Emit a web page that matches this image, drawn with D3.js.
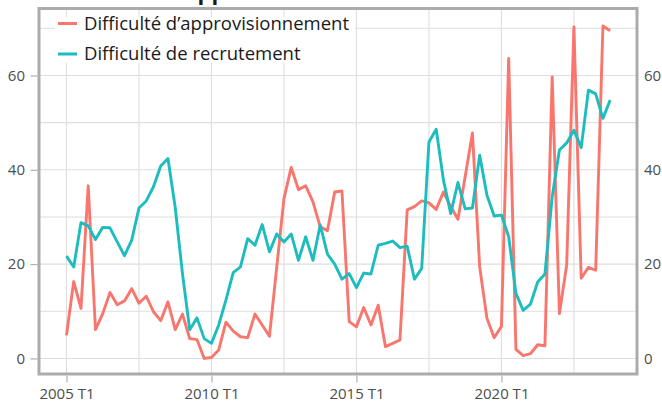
<!DOCTYPE html>
<html>
<head>
<meta charset="utf-8">
<script src="https://cdn.jsdelivr.net/npm/d3@7"></script>
<style>
  body { margin: 0; background: #fff; }
  svg { display: block; font-family: 'Open Sans', sans-serif; }
</style>
</head>
<body>
<div id="wrapper"></div>
<script>
// Data: quarterly, 2005 T1 -> 2023 T4
const startYear = 2005;
const quarters = d3.range(76).map((i) => `${startYear + Math.floor(i / 4)} T${(i % 4) + 1}`);

const approvisionnement = [
  4.9, 16.3, 10.6, 36.6, 6.1, 9.5, 14.0, 11.4, 12.2, 14.8,
  11.7, 13.2, 9.9, 8.0, 12.0, 6.1, 9.4, 4.2, 4.0, 0.0,
  0.2, 1.8, 7.7, 5.8, 4.6, 4.4, 9.4, 7.1, 4.7, 19.3,
  33.9, 40.5, 35.8, 36.6, 33.2, 27.9, 27.1, 35.3, 35.5, 7.8,
  6.7, 10.8, 7.1, 11.3, 2.5, 3.2, 3.9, 31.5, 32.2, 33.4,
  33.0, 31.6, 35.3, 32.2, 29.5, 38.6, 47.8, 19.4, 8.5, 4.4,
  6.8, 63.6, 1.9, 0.6, 1.0, 2.9, 2.7, 59.7, 9.5, 19.8,
  70.3, 17.0, 19.3, 18.7, 70.5, 69.5,
];

const recrutement = [
  21.7, 19.4, 28.8, 28.1, 25.2, 27.8, 27.7, 24.7, 21.8, 25.1,
  31.9, 33.4, 36.4, 40.8, 42.4, 32.0, 18.0, 6.1, 8.6, 4.2,
  3.2, 7.1, 12.4, 18.2, 19.4, 25.4, 24.0, 28.4, 22.6, 26.4,
  24.7, 26.4, 20.8, 25.8, 20.8, 28.3, 22.1, 20.0, 16.8, 18.0,
  15.0, 18.1, 17.9, 24.0, 24.4, 24.9, 23.5, 23.8, 16.8, 19.1,
  45.9, 48.6, 37.8, 30.7, 37.3, 31.7, 31.9, 43.1, 34.6, 30.2,
  30.4, 25.8, 13.8, 10.2, 11.5, 16.2, 17.9, 34.3, 44.2, 45.7,
  48.4, 44.7, 56.9, 56.1, 50.9, 54.8,
];

const seriesNames = ['Difficulté d’approvisionnement', 'Difficulté de recrutement'];
const seriesColors = ['#F8766D', '#1DBDBF'];
const yTicks = [0, 20, 40, 60];
const xTickLabels = ['2005 T1', '2010 T1', '2015 T1', '2020 T1'];

const dimensions = {
  width: 662,
  height: 401,
  margin: { top: 8.5, right: 25, bottom: 27, left: 39 },
};
dimensions.boundedWidth = dimensions.width - dimensions.margin.left - dimensions.margin.right;
dimensions.boundedHeight = dimensions.height - dimensions.margin.top - dimensions.margin.bottom;

const panelLeft = dimensions.margin.left;
const panelRight = dimensions.width - dimensions.margin.right;
const panelTop = dimensions.margin.top;
const panelBottom = dimensions.height - dimensions.margin.bottom;

// Scales (x on quarter index)
const xScale = d3.scaleLinear().domain([-3.79, 78.7]).range([panelLeft, panelRight]);
const yScale = d3.scaleLinear().domain([-3.3, 74.2]).range([panelBottom, panelTop]);

const svg = d3
  .select('#wrapper')
  .append('svg')
  .attr('width', dimensions.width)
  .attr('height', dimensions.height);

// Grid
const grid = svg.append('g').attr('stroke', '#dedede').attr('stroke-width', 1.1);
grid
  .selectAll('line.h')
  .data(d3.range(0, 80, 10))
  .join('line')
  .attr('class', 'h')
  .attr('x1', panelLeft)
  .attr('x2', panelRight)
  .attr('y1', (d) => yScale(d))
  .attr('y2', (d) => yScale(d));
grid
  .selectAll('line.v')
  .data(d3.range(0, 80, 10))
  .join('line')
  .attr('class', 'v')
  .attr('x1', (d) => xScale(d))
  .attr('x2', (d) => xScale(d))
  .attr('y1', panelTop)
  .attr('y2', panelBottom);

// Lines
const line = (values) =>
  d3
    .line()
    .x((d, i) => xScale(i))
    .y((d) => yScale(d))(values);

[approvisionnement, recrutement].forEach((values, k) => {
  svg
    .append('path')
    .attr('d', line(values))
    .attr('fill', 'none')
    .attr('stroke', seriesColors[k])
    .attr('stroke-width', 2.9)
    .attr('stroke-linejoin', 'round');
});

// Legend
const legend = svg.append('g').attr('id', 'legend');
legend
  .append('rect')
  .attr('x', 55)
  .attr('y', 17)
  .attr('width', 300)
  .attr('height', 46)
  .attr('fill', '#fff');
seriesNames.forEach((name, k) => {
  const ly = 23.5 + k * 30.5;
  legend
    .append('line')
    .attr('x1', 58)
    .attr('x2', 77)
    .attr('y1', ly)
    .attr('y2', ly)
    .attr('stroke', seriesColors[k])
    .attr('stroke-width', 3);
  legend
    .append('text')
    .attr('x', 84)
    .attr('y', ly + 6.2)
    .attr('fill', '#1a1a1a')
    .style('font-size', '18.5px')
    .text(name);
});

// Panel border
svg
  .append('rect')
  .attr('x', panelLeft)
  .attr('y', panelTop)
  .attr('width', dimensions.boundedWidth)
  .attr('height', dimensions.boundedHeight)
  .attr('fill', 'none')
  .attr('stroke', '#ababab')
  .attr('stroke-width', 3);

// Axes
const yAxis = d3.axisLeft(yScale).tickValues(yTicks).tickSize(7).tickPadding(5.5);
const yAxisGroup = svg
  .append('g')
  .attr('id', 'y-axis')
  .attr('transform', `translate(${panelLeft - 1.5}, 0)`)
  .call(yAxis);

const yAxisRight = d3.axisRight(yScale).tickValues(yTicks).tickSize(0).tickPadding(5.5);
const yAxisRightGroup = svg
  .append('g')
  .attr('id', 'y-axis-right')
  .attr('transform', `translate(${panelRight + 1.5}, 0)`)
  .call(yAxisRight);

const xAxis = d3
  .axisBottom(xScale)
  .tickValues([0, 20, 40, 60])
  .tickFormat((d, i) => xTickLabels[i])
  .tickSize(7)
  .tickPadding(4);
const xAxisGroup = svg
  .append('g')
  .attr('id', 'x-axis')
  .attr('transform', `translate(0, ${panelBottom + 1.5})`)
  .call(xAxis);

[yAxisGroup, yAxisRightGroup, xAxisGroup].forEach((g) => {
  g.select('.domain').remove();
  g.selectAll('.tick line').attr('stroke', '#ababab').attr('stroke-width', 1.1);
  g.selectAll('.tick text')
    .attr('fill', '#4d4d4d')
    .style('font-size', '15px')
    .style('font-family', "'Open Sans', sans-serif");
});
// baseline of bottom labels near the lower edge, as in the reference
xAxisGroup.selectAll('.tick text').attr('y', 23).attr('dy', 0);

// Title (mostly cropped above the frame)
const title = svg
  .append('text')
  .attr('x', 0)
  .attr('y', -0.5)
  .attr('fill', '#1a1a1a')
  .style('font-size', '22px')
  .style('font-weight', 'bold')
  .text('Difficultés d’approvisionnement et de recrutement');
const pIndex = title.text().indexOf('pp');
const pPos = title.node().getStartPositionOfChar(pIndex).x;
title.attr('x', 197.5 - pPos);
</script>
</body>
</html>
